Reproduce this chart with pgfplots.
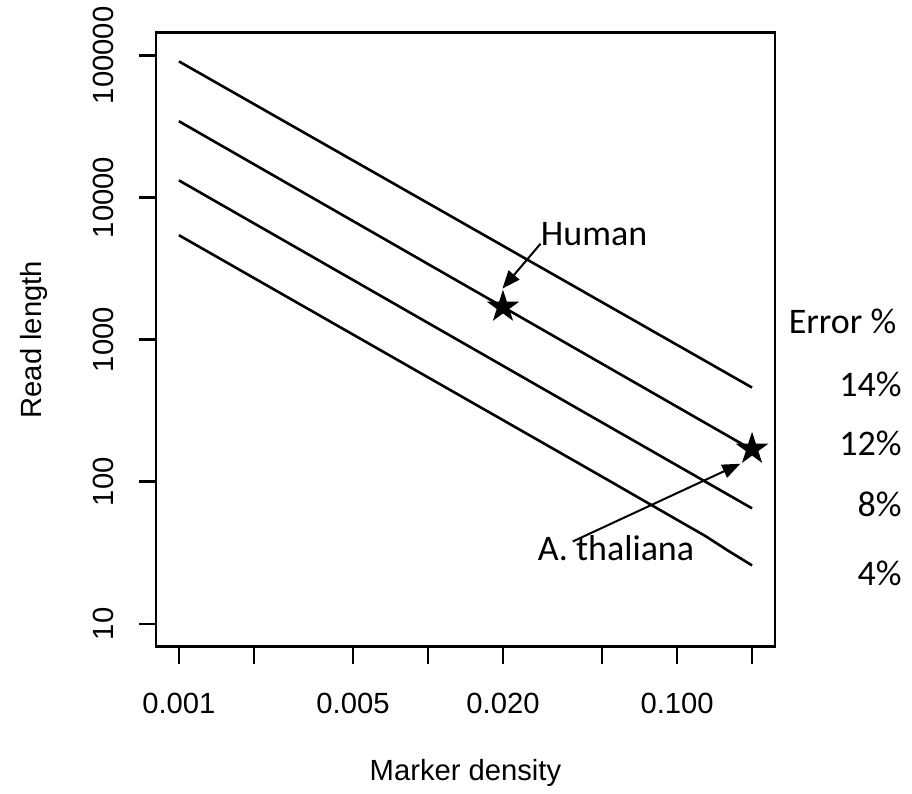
\documentclass[border=0pt]{standalone}
\usepackage{pgfplots}
\pgfplotsset{compat=1.18}
\usetikzlibrary{arrows.meta}
\usepackage{fontspec}
\setmainfont{Liberation Sans}
\newfontfamily\calibri{Carlito}

% filled five-pointed star
\pgfdeclareplotmark{fstar}{%
  \pgfpathmoveto{\pgfpointpolar{90}{\pgfplotmarksize}}%
  \pgfpathlineto{\pgfpointpolar{126}{0.382*\pgfplotmarksize}}%
  \pgfpathlineto{\pgfpointpolar{162}{\pgfplotmarksize}}%
  \pgfpathlineto{\pgfpointpolar{198}{0.382*\pgfplotmarksize}}%
  \pgfpathlineto{\pgfpointpolar{234}{\pgfplotmarksize}}%
  \pgfpathlineto{\pgfpointpolar{270}{0.382*\pgfplotmarksize}}%
  \pgfpathlineto{\pgfpointpolar{306}{\pgfplotmarksize}}%
  \pgfpathlineto{\pgfpointpolar{342}{0.382*\pgfplotmarksize}}%
  \pgfpathlineto{\pgfpointpolar{18}{\pgfplotmarksize}}%
  \pgfpathlineto{\pgfpointpolar{54}{0.382*\pgfplotmarksize}}%
  \pgfpathclose
  \pgfusepathqfill}

\begin{document}
\begin{tikzpicture}
\begin{axis}[
    scale only axis,
    width=309.5pt, height=307pt,
    xmode=log, ymode=log,
    xmin=0.000809, xmax=0.2472,
    ymin=6.92, ymax=144500,
    clip=false,
    axis line style={line width=1.3pt},
    tick style={line width=1.3pt, black},
    minor tick style={draw=none},
    tick align=outside,
    major tick length=8.5pt,
    xtick={0.001,0.002,0.005,0.01,0.02,0.05,0.1,0.2},
    xticklabels={0.001,,0.005,,0.020,,0.100,},
    ytick={10,100,1000,10000,100000},
    yticklabels={10,100,1000,10000,100000},
    xtick pos=bottom, ytick pos=left,
    /pgf/number format/assume math mode=true,
    tick label style={font=\fontsize{14.6}{17}\selectfont},
    xticklabel style={yshift=-11pt},
    yticklabel style={rotate=90, anchor=south, yshift=9pt},
    xlabel={Marker density},
    ylabel={Read length},
    every axis x label/.style={at={(axis description cs:0.5,0)}, anchor=base, yshift=-67pt,
      font=\fontsize{14.6}{17}\selectfont},
    every axis y label/.style={at={(axis description cs:0,0.5)}, xshift=-57pt, rotate=90, anchor=base,
      font=\fontsize{14.6}{17}\selectfont},
  ]
  % error-rate lines: 14%, 12%, 8%, 4%
  \addplot[black, line width=1.3pt] coordinates {(0.001,90700) (0.2,460)};
  \addplot[black, line width=1.3pt] coordinates {(0.001,34400) (0.2,168)};
  \addplot[black, line width=1.3pt] coordinates {(0.001,13200) (0.2,65)};
  \addplot[black, line width=1.3pt] coordinates {
    (0.001,5430) (0.05,108.6) (0.1,54) (0.13,41.5) (0.16,32.8) (0.2,25.8)};

  % organisms
  \addplot[only marks, black, mark=fstar, mark size=8.6pt] coordinates {(0.02,1700) (0.2,170)};

  \draw[line width=1pt, -{Triangle[length=9pt,width=7pt]}] (axis cs:0.0283,4730) -- (axis cs:0.0199,2285);
  \draw[line width=1pt, -{Triangle[length=9pt,width=7pt]}] (axis cs:0.0381,38) -- (axis cs:0.1795,134);

  \begin{scope}[every node/.style={inner sep=0pt, font=\calibri\fontsize{18}{20}\selectfont}]
    \node[anchor=base west] at (axis cs:0.0283,4580) {Human};
    \node[anchor=base west] at (axis cs:0.0275,27.9) {A. thaliana};
    \node[anchor=base west] at (axis cs:0.28,1102) {Error \%};
    \node[anchor=base east] at (axis cs:0.80,397) {14\%};
    \node[anchor=base east] at (axis cs:0.80,153) {12\%};
    \node[anchor=base east] at (axis cs:0.80,57) {8\%};
    \node[anchor=base east] at (axis cs:0.80,18.7) {4\%};
  \end{scope}

  % page margins as in the reference
  \path ([shift={(-78pt,-71pt)}]rel axis cs:0,0) rectangle ([shift={(378pt,323pt)}]rel axis cs:0,0);
\end{axis}
\end{tikzpicture}
\end{document}
